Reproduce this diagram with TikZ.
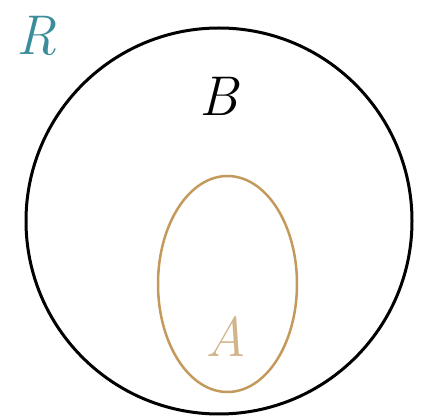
\documentclass[tikz,border=0pt]{standalone}
\usepackage{fix-cm}
\usetikzlibrary{shapes.geometric}
\definecolor{rteal}{HTML}{3A8E9C}
\definecolor{etan}{HTML}{C49A5C}
\definecolor{atan}{HTML}{D2B48A}
\tikzset{
  lbl/.style={font=\fontsize{56}{60}\selectfont\itshape, inner sep=0pt},
}
\begin{document}
\begin{tikzpicture}[x=1pt,y=-1pt]
\useasboundingbox (0,0) rectangle (426,419);
\node[draw=black, line width=3pt, circle, minimum size=386pt, inner sep=0pt] (bigR) at (219,221) {};
\node[draw=etan, line width=2.5pt, ellipse, minimum width=139pt, minimum height=216pt, inner sep=0pt] (setA) at (227.5,284) {};
\node[lbl, text=rteal] (labR) at (36,36) {R};
\node[lbl, text=black] (labB) at (219,96) {B};
\node[lbl, text=atan] (labA) at (226,337) {A};
\end{tikzpicture}
\end{document}
